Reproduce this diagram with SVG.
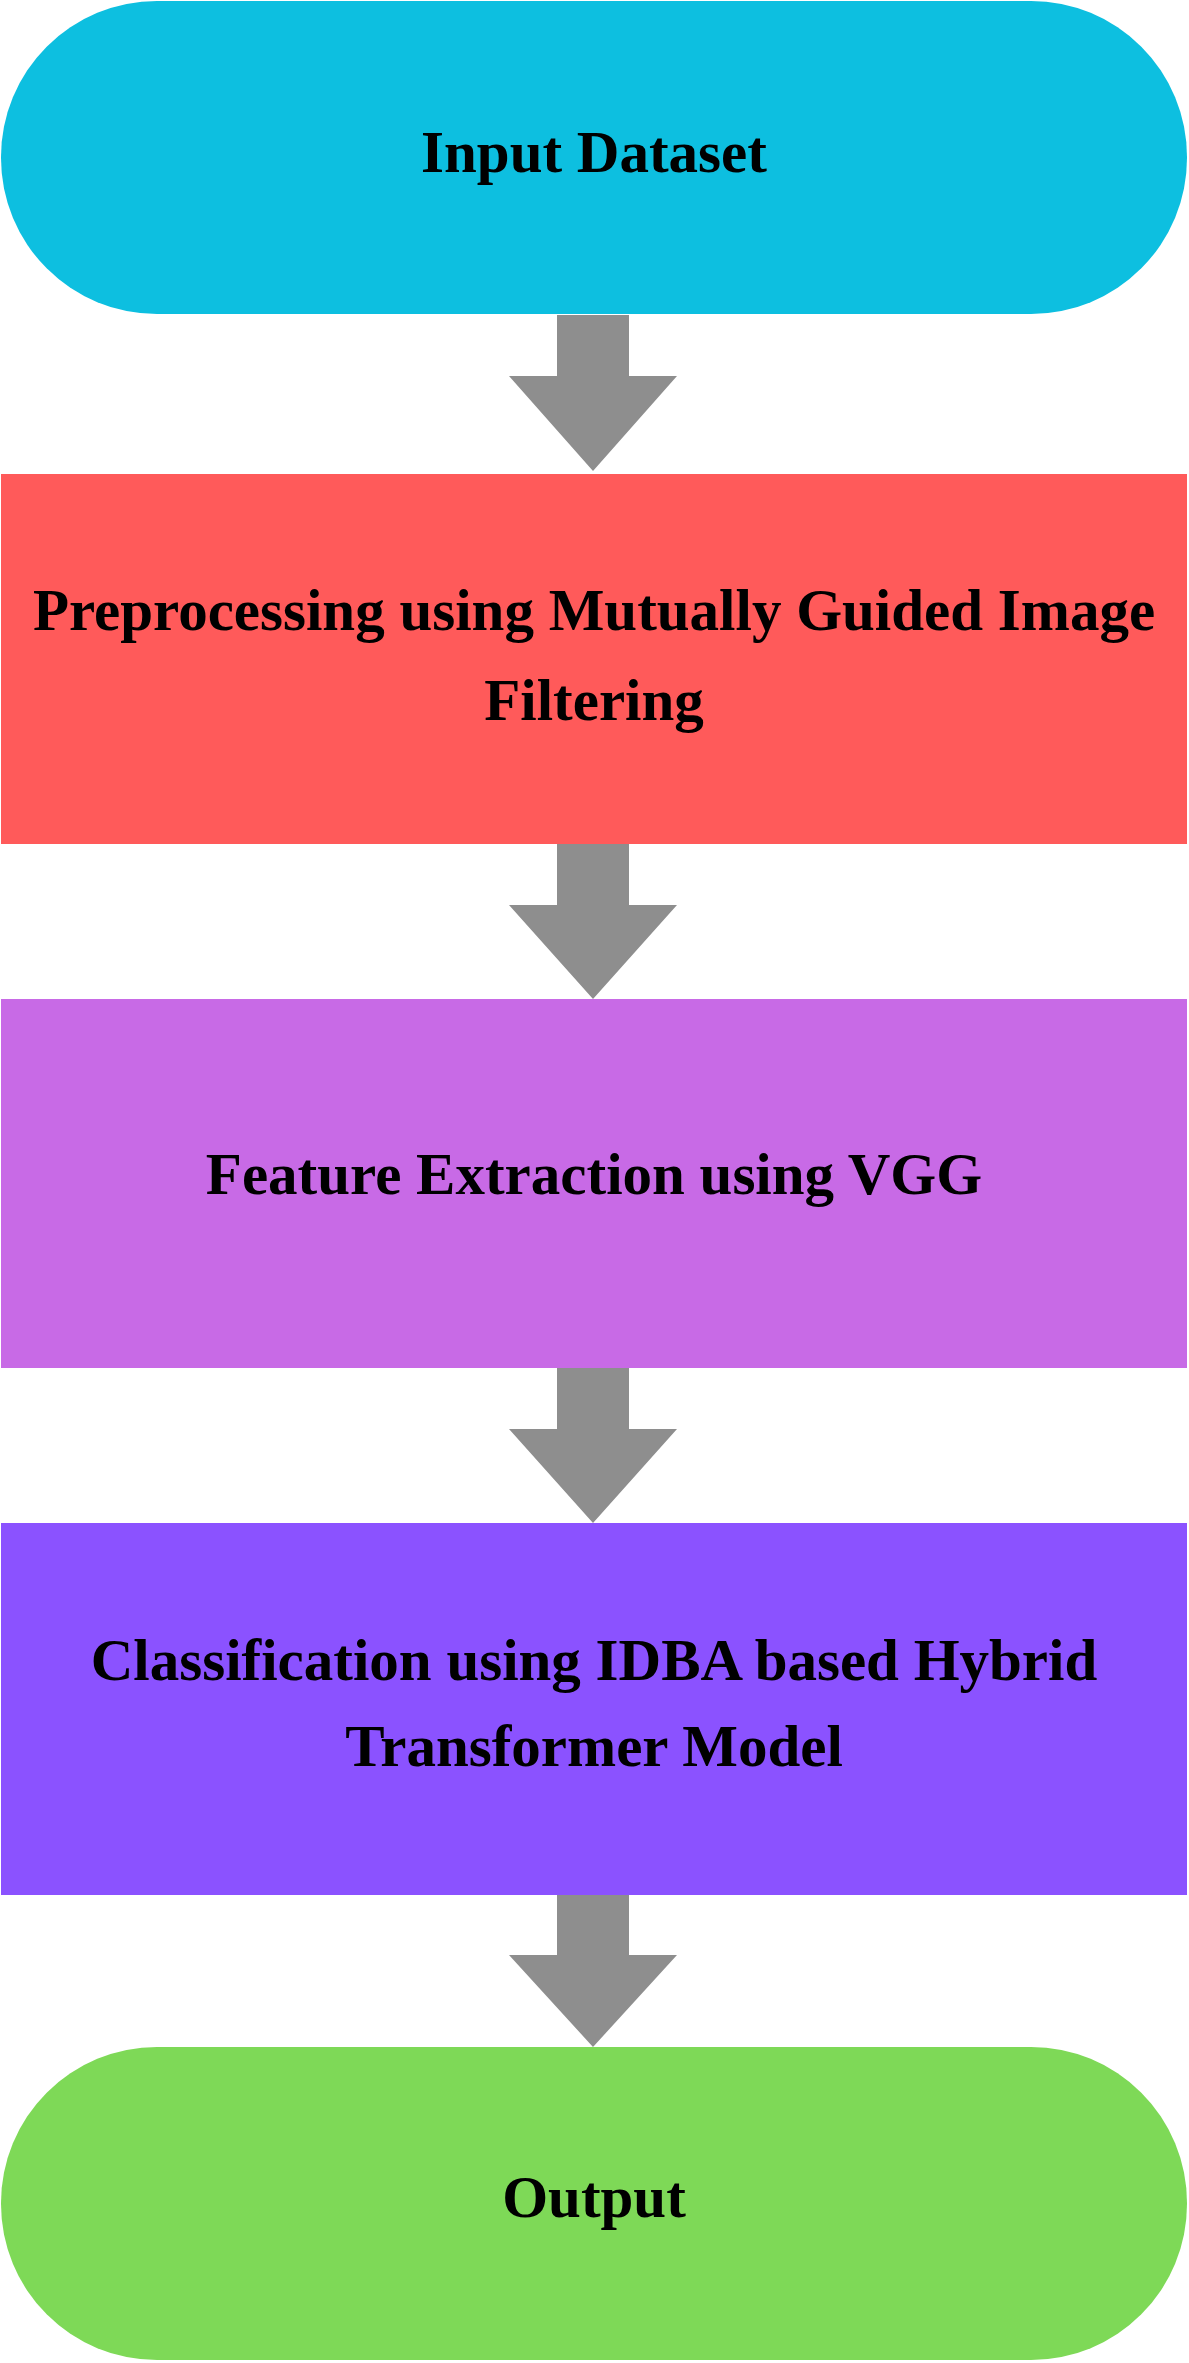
<svg xmlns="http://www.w3.org/2000/svg" width="1189" height="2363" viewBox="0 0 1189 2363">
<style>
text{font-family:"Liberation Serif","Times New Roman",serif;font-weight:bold;font-size:59px;fill:#000;text-anchor:middle}
.arr{fill:#8E8E8E}
</style>
<rect width="1189" height="2363" fill="#fff"/>
<g id="input"><rect x="1" y="1" width="1186" height="313" rx="156" fill="#0DBFE0"/><text x="594" y="172">Input Dataset</text></g>
<g id="preprocessing"><rect x="1" y="474" width="1186" height="370" fill="#FF5A5A"/><text x="594" y="630">Preprocessing using Mutually Guided Image</text><text x="594" y="720">Filtering</text></g>
<g id="feature"><rect x="1" y="999" width="1186" height="369" fill="#C86AE6"/><text x="594" y="1194">Feature Extraction using VGG</text></g>
<g id="classification"><rect x="1" y="1523" width="1186" height="372" fill="#8B52FF"/><text x="594" y="1680">Classification using IDBA based Hybrid</text><text x="594" y="1766">Transformer Model</text></g>
<g id="output"><rect x="1" y="2047" width="1186" height="313" rx="156" fill="#7ED957"/><text x="594" y="2217">Output</text></g>
<g id="connectors">
<polygon class="arr" points="557,315 629,315 629,376 677,376 593,471 509,376 557,376"/>
<polygon class="arr" points="557,844 629,844 629,905 677,905 593,999 509,905 557,905"/>
<polygon class="arr" points="557,1368 629,1368 629,1429 677,1429 593,1523 509,1429 557,1429"/>
<polygon class="arr" points="557,1895 629,1895 629,1955 677,1955 593,2047 509,1955 557,1955"/>
</g>
</svg>
